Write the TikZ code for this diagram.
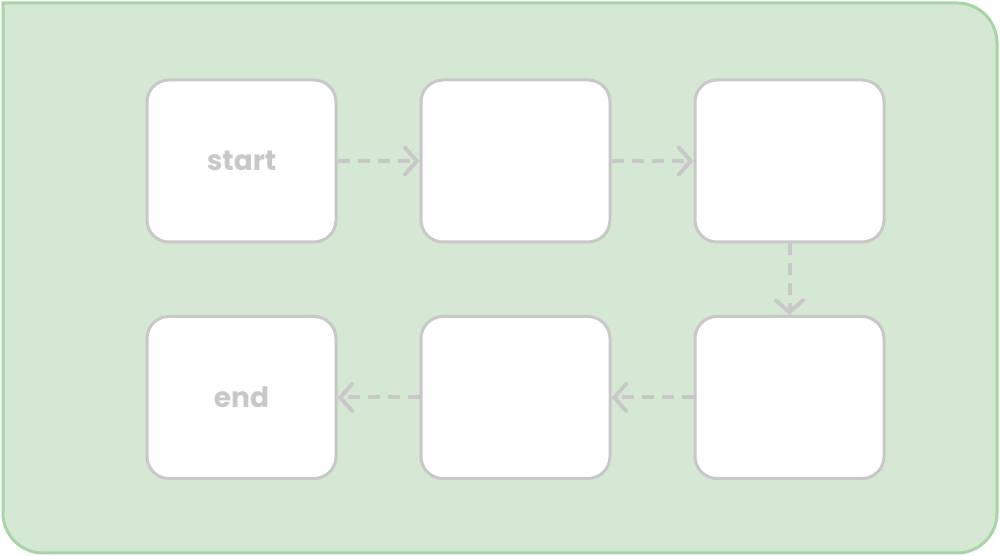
\documentclass[tikz,border=0pt]{standalone}
\usepackage{fontspec}
\usetikzlibrary{arrows.meta,positioning}
\newfontfamily\labelfont{Poppins}
\definecolor{panelfill}{HTML}{D5E8D4}
\definecolor{paneldraw}{HTML}{A8D5A6}
\definecolor{boxgray}{HTML}{C8C8C8}
\tikzset{
    stepbox/.style={draw=boxgray, fill=white, line width=3pt, rounded corners=22pt,
        minimum width=189pt, minimum height=162pt, inner sep=0pt,
        text=boxgray, font=\labelfont\bfseries\fontsize{28}{32}\selectfont},
    flow/.style={draw=boxgray, line width=4pt, dash pattern=on 12pt off 8pt,
        -{Straight Barb[length=12pt, width=27pt, line cap=round]}}
}
\begin{document}
\begin{tikzpicture}[x=1pt,y=1pt]
        \useasboundingbox (0,0) rectangle (1000,556);
        % Green panel
        \draw[fill=panelfill, draw=paneldraw, line width=3pt]
            (3,553) -- (957,553) arc[start angle=90, end angle=0, radius=40]
            -- (997,43) arc[start angle=0, end angle=-90, radius=40]
            -- (43,3) arc[start angle=270, end angle=180, radius=40] -- cycle;

        % Top row
        \node[stepbox] (start) at (241.5,395) {start};
        \node[stepbox] (second) at (515.5,395) {};
        \node[stepbox] (third) at (789.5,395) {};

        % Bottom row
        \node[stepbox] (fourth) at (789.5,158.5) {};
        \node[stepbox] (fifth) at (515.5,158.5) {};
        \node[stepbox] (end) at (241.5,158.5) {end};

        % Flow
        \draw[flow] (start) -- (second);
        \draw[flow] (second) -- (third);
        \draw[flow] (third) -- (fourth);
        \draw[flow] (fourth) -- (fifth);
        \draw[flow] (fifth) -- (end);
    \end{tikzpicture}
\end{document}
